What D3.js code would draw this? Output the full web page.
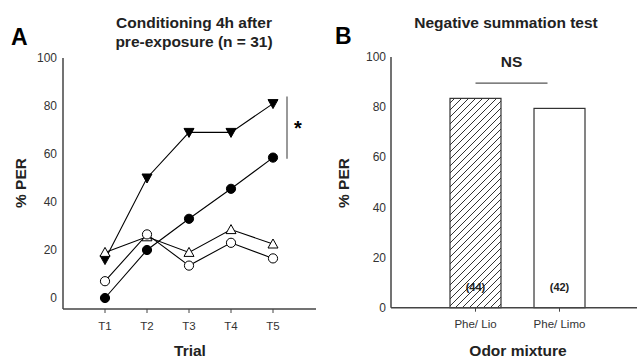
<!DOCTYPE html>
<html>
<head>
<meta charset="utf-8">
<script src="https://cdn.jsdelivr.net/npm/d3@7"></script>
<style>
  body { margin: 0; background: #fff; }
  svg { display: block; font-family: "Liberation Sans", Arial, sans-serif; }
</style>
</head>
<body>
<svg width="637" height="359"></svg>
<script>

// Panel A data (% PER per trial)
var trials = ["T1", "T2", "T3", "T4", "T5"];
var triDown = [16, 50, 69, 69, 81];
var dotFilled = [0, 20, 33, 45.5, 58.5];
var triUp = [19, 25.5, 19, 28.5, 22.5];
var dotOpen = [7, 26.5, 13.5, 23, 16.5];

// Panel B data
var mixtures = ["Phe/ Lio", "Phe/ Limo"];
var mixValues = [83.5, 79.5];
var mixN = ["(44)", "(42)"];

var yTicks = [0, 20, 40, 60, 80, 100];

var svg = d3.select("svg");
var axisColor = "#444";

// hatch pattern for the first bar
svg.append("defs").append("pattern")
  .attr("id", "hatch")
  .attr("patternUnits", "userSpaceOnUse")
  .attr("width", 7).attr("height", 7)
  .append("path")
  .attr("d", "M-1,1 l2,-2 M0,7 l7,-7 M6,8 l2,-2")
  .attr("stroke", "#333")
  .attr("stroke-width", 1);

/* ---------------- Panel A ---------------- */

var xA = d3.scalePoint().domain(trials).range([105, 273]);
var yA = d3.scaleLinear().domain([0, 100]).range([298, 58]);

var gA = svg.append("g");

gA.append("text").attr("x", 11).attr("y", 45)
  .attr("font-size", 23).attr("font-weight", "bold").text("A");

gA.append("text").attr("x", 194).attr("y", 28)
  .attr("text-anchor", "middle").attr("font-size", 15.5).attr("font-weight", "bold")
  .attr("fill", "#222").text("Conditioning 4h after");
gA.append("text").attr("x", 194).attr("y", 47)
  .attr("text-anchor", "middle").attr("font-size", 15.5).attr("font-weight", "bold")
  .attr("fill", "#222").text("pre-exposure (n = 31)");

// axes
gA.append("line").attr("x1", 63).attr("x2", 63).attr("y1", yA(100)).attr("y2", 309)
  .attr("stroke", axisColor).attr("stroke-width", 1.5);
gA.append("line").attr("x1", 63).attr("x2", 316).attr("y1", 309).attr("y2", 309)
  .attr("stroke", axisColor).attr("stroke-width", 1.5);

gA.selectAll(".ytA").data(yTicks).enter().append("text")
  .attr("x", 57).attr("y", function(d) { return yA(d); })
  .attr("dy", ".35em").attr("text-anchor", "end")
  .attr("font-size", 12).attr("fill", "#333")
  .text(function(d) { return d; });

gA.selectAll(".xtA").data(trials).enter().append("line")
  .attr("x1", function(d) { return xA(d); }).attr("x2", function(d) { return xA(d); })
  .attr("y1", 309).attr("y2", 313).attr("stroke", axisColor);

gA.selectAll(".xlA").data(trials).enter().append("text")
  .attr("x", function(d) { return xA(d); }).attr("y", 330)
  .attr("text-anchor", "middle").attr("font-size", 11.5).attr("fill", "#333")
  .text(function(d) { return d; });

gA.append("text").attr("x", 190).attr("y", 356)
  .attr("text-anchor", "middle").attr("font-size", 15.5).attr("font-weight", "bold")
  .attr("fill", "#222").text("Trial");

gA.append("text").attr("transform", "translate(26,183) rotate(-90)")
  .attr("text-anchor", "middle").attr("font-size", 15.5).attr("font-weight", "bold")
  .attr("fill", "#222").text("% PER");

// series
var series = [
  { values: triDown, shape: "down", fill: "#000" },
  { values: dotFilled, shape: "circle", fill: "#000" },
  { values: triUp, shape: "up", fill: "#fff" },
  { values: dotOpen, shape: "circle", fill: "#fff" }
];

var line = d3.line()
  .x(function(d, i) { return xA(trials[i]); })
  .y(function(d) { return yA(d); });

series.forEach(function(s) {
  gA.append("path").attr("d", line(s.values))
    .attr("fill", "none").attr("stroke", "#000").attr("stroke-width", 1.1);
});

series.forEach(function(s) {
  var pts = gA.selectAll(null).data(s.values).enter().append("g")
    .attr("transform", function(d, i) { return "translate(" + xA(trials[i]) + "," + yA(d) + ")"; });
  if (s.shape == "circle") {
    pts.append("circle").attr("r", 4.6)
      .attr("fill", s.fill).attr("stroke", "#000").attr("stroke-width", 1);
  } else {
    var dPath = s.shape == "down" ? "M-5,-4L5,-4L0,5Z" : "M-5,4L5,4L0,-5Z";
    pts.append("path").attr("d", dPath)
      .attr("fill", s.fill).attr("stroke", "#000").attr("stroke-width", 1);
  }
});

// significance bracket
gA.append("line").attr("x1", 287).attr("x2", 287).attr("y1", yA(84)).attr("y2", yA(58))
  .attr("stroke", "#555").attr("stroke-width", 1.2);
gA.append("text").attr("x", 298).attr("y", yA(73)).attr("dy", ".6em")
  .attr("text-anchor", "middle").attr("font-size", 20).attr("font-weight", "bold")
  .text("*");

/* ---------------- Panel B ---------------- */

var xB = d3.scaleBand().domain(mixtures).range([450, 585]).paddingInner(0.393).paddingOuter(0);
var yB = d3.scaleLinear().domain([0, 100]).range([307.7, 57]);

var gB = svg.append("g");

gB.append("text").attr("x", 335).attr("y", 44)
  .attr("font-size", 23).attr("font-weight", "bold").text("B");

gB.append("text").attr("x", 506).attr("y", 27.5)
  .attr("text-anchor", "middle").attr("font-size", 15.5).attr("font-weight", "bold")
  .attr("fill", "#222").text("Negative summation test");

gB.selectAll(".bar").data(mixValues).enter().append("rect")
  .attr("x", function(d, i) { return xB(mixtures[i]); })
  .attr("y", function(d) { return yB(d); })
  .attr("width", xB.bandwidth())
  .attr("height", function(d) { return yB(0) - yB(d); })
  .attr("fill", function(d, i) { return i == 0 ? "url(#hatch)" : "#fff"; })
  .attr("stroke", "#333").attr("stroke-width", 1.2);

gB.append("line").attr("x1", 391).attr("x2", 391).attr("y1", yB(100)).attr("y2", yB(0))
  .attr("stroke", axisColor).attr("stroke-width", 1.5);
gB.append("line").attr("x1", 391).attr("x2", 637).attr("y1", yB(0)).attr("y2", yB(0))
  .attr("stroke", axisColor).attr("stroke-width", 1.5);

gB.selectAll(".ytB").data(yTicks).enter().append("text")
  .attr("x", 386).attr("y", function(d) { return yB(d); })
  .attr("dy", ".35em").attr("text-anchor", "end")
  .attr("font-size", 12).attr("fill", "#333")
  .text(function(d) { return d; });

gB.selectAll(".xtB").data(mixtures).enter().append("line")
  .attr("x1", function(d) { return xB(d) + xB.bandwidth() / 2; })
  .attr("x2", function(d) { return xB(d) + xB.bandwidth() / 2; })
  .attr("y1", yB(0)).attr("y2", yB(0) + 4).attr("stroke", axisColor);

gB.selectAll(".xlB").data(mixtures).enter().append("text")
  .attr("x", function(d) { return xB(d) + xB.bandwidth() / 2; }).attr("y", 328)
  .attr("text-anchor", "middle").attr("font-size", 11.5).attr("fill", "#333")
  .text(function(d) { return d; });

gB.selectAll(".nB").data(mixN).enter().append("text")
  .attr("x", function(d, i) { return xB(mixtures[i]) + xB.bandwidth() / 2; })
  .attr("y", yB(8)).attr("dy", ".35em")
  .attr("text-anchor", "middle").attr("font-size", 11).attr("font-weight", "bold")
  .attr("fill", "#222").text(function(d) { return d; });

gB.append("text").attr("x", 518).attr("y", 356)
  .attr("text-anchor", "middle").attr("font-size", 15.5).attr("font-weight", "bold")
  .attr("fill", "#222").text("Odor mixture");

gB.append("text").attr("transform", "translate(349,183) rotate(-90)")
  .attr("text-anchor", "middle").attr("font-size", 15.5).attr("font-weight", "bold")
  .attr("fill", "#222").text("% PER");

// NS bracket
var c1 = xB(mixtures[0]) + xB.bandwidth() / 2;
var c2 = xB(mixtures[1]) + xB.bandwidth() / 2;
gB.append("line").attr("x1", c1).attr("x2", c2 - 12).attr("y1", yB(89.6)).attr("y2", yB(89.6))
  .attr("stroke", "#555").attr("stroke-width", 1.2);
gB.append("text").attr("x", (c1 + c2 - 12) / 2).attr("y", yB(98)).attr("dy", ".35em")
  .attr("text-anchor", "middle").attr("font-size", 15.5).attr("font-weight", "bold")
  .attr("fill", "#222").text("NS");

</script>
</body>
</html>
